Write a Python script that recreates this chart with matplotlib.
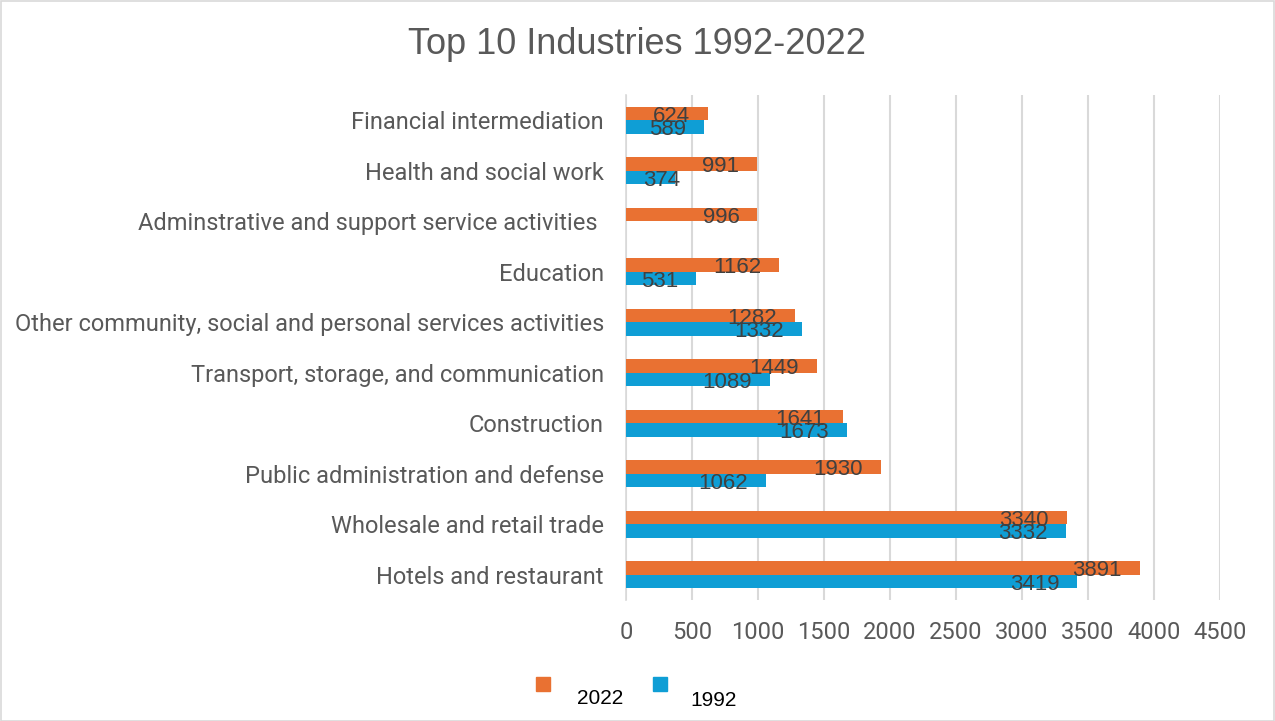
import matplotlib
matplotlib.use("Agg")
import matplotlib.pyplot as plt
from matplotlib.patches import Rectangle
import numpy as np

# industries, top row first
industries = [
    "Financial intermediation",
    "Health and social work",
    "Adminstrative and support service activities ",
    "Education",
    "Other community, social and personal services activities",
    "Transport, storage, and communication",
    "Construction",
    "Public administration and defense",
    "Wholesale and retail trade",
    "Hotels and restaurant",
]
y2022 = [624, 991, 996, 1162, 1282, 1449, 1641, 1930, 3340, 3891]
y1992 = [589, 374, None, 531, 1332, 1089, 1673, 1062, 3332, 3419]

c2022 = "#E97132"
c1992 = "#0F9ED5"
grey = "#595959"

fig = plt.figure(figsize=(12.75, 7.21), dpi=100)
ax = fig.add_axes([626 / 1275, 1 - 600 / 721, (1220 - 626) / 1275, (600 - 95) / 721])

n = len(industries)
pos = np.arange(n)[::-1]  # first industry at the top
h = 0.27

v92 = [v if v is not None else 0 for v in y1992]
b22 = ax.barh(pos + h / 2, y2022, height=h, color=c2022, zorder=3)
b92 = ax.barh(pos - h / 2, v92, height=h, color=c1992, zorder=3)


def put_labels(bars, vals):
    for bar, v in zip(bars, vals):
        if v is None:
            continue
        yc = bar.get_y() + bar.get_height() / 2
        if v < 500:
            ax.annotate(str(v), (0, yc), xytext=(12, -2), textcoords="offset points",
                        ha="left", va="center", fontsize=16, color="#404040",
                        family="Liberation Sans", zorder=4)
        else:
            ax.annotate(str(v), (v, yc), xytext=(-13, -2), textcoords="offset points",
                        ha="right", va="center", fontsize=16, color="#404040",
                        family="Liberation Sans", zorder=4)


put_labels(b22, y2022)
put_labels(b92, y1992)

ax.set_xlim(0, 4500)
ax.set_ylim(-0.5, n - 0.5)
ax.set_xticks(np.arange(0, 4501, 500))
ax.set_yticks(pos)
ax.set_yticklabels(industries)
ax.tick_params(axis="both", length=0, labelsize=17, labelcolor=grey)
ax.tick_params(axis="y", pad=16)
ax.tick_params(axis="x", pad=15)
for lab in ax.get_xticklabels() + ax.get_yticklabels():
    lab.set_family("Roboto")

ax.grid(axis="x", color="#d9d9d9", linewidth=1.5, zorder=0)
for s in ["top", "right", "bottom"]:
    ax.spines[s].set_visible(False)
ax.spines["left"].set_color("#d9d9d9")
ax.spines["left"].set_linewidth(1.2)

fig.text(0.5, 1 - 54 / 721, "Top 10 Industries 1992-2022", ha="center", va="baseline",
         fontsize=26, color=grey, family="Liberation Sans")

# legend drawn by hand
W, H = 1275, 721
fig.patches.append(Rectangle((536 / W, 1 - 691 / H), 14 / W, 14 / H, color=c2022,
                             transform=fig.transFigure, figure=fig))
fig.patches.append(Rectangle((653 / W, 1 - 691 / H), 14 / W, 14 / H,
                             color=c1992, transform=fig.transFigure, figure=fig))
fig.text(577 / W, 1 - 698 / H, "2022", ha="left", va="center", fontsize=15,
         color="black", family="Liberation Sans")
fig.text(690 / W, 1 - 700 / H, "1992", ha="left", va="center", fontsize=15,
         color="black", family="Liberation Sans")

# thin frame round the chart
fig.patches.append(Rectangle((0.5 / W, 0.5 / H), 1 - 1.5 / W, 1 - 1.5 / H, fill=False,
                             edgecolor="#d9d9d9", linewidth=1.2,
                             transform=fig.transFigure, figure=fig))

fig.savefig("out.png", dpi=100)
